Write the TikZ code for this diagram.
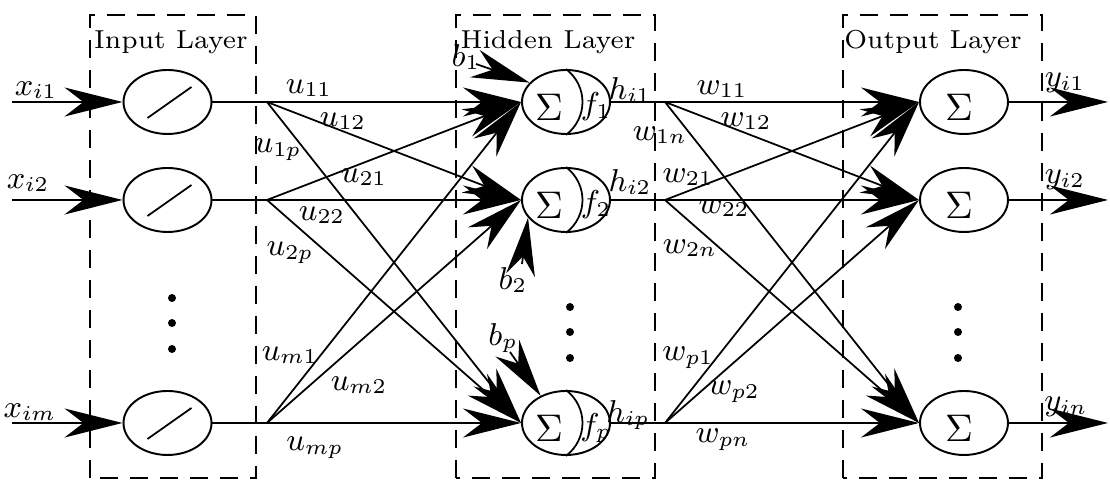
\documentclass[tikz,border=0pt]{standalone}
\usepackage{amsmath,amssymb}
\usepackage{tikz}
\usetikzlibrary{arrows.meta, shapes.geometric}

\begin{document}
\begin{tikzpicture}[
    neuron/.style={draw, ellipse, line width=0.55pt, minimum width=0.88cm, minimum height=0.64cm, inner sep=0pt},
    layerbox/.style={line width=0.6pt, dash pattern=on 0.18cm off 0.12cm},
    wire/.style={line width=0.5pt},
    conn/.style={wire, -{Stealth[length=0.58cm, width=0.29cm]}},
    wlabel/.style={font=\fontsize{9}{10}\selectfont, inner sep=0pt},
    sigma/.style={font=\fontsize{11}{12}\selectfont, inner sep=0pt},
    title/.style={font=\fontsize{7.4}{9}\selectfont},
]
  \useasboundingbox (0,0) rectangle (11.1,4.8);

  % Dashed layer frames
  \draw[layerbox] (0.90,0.02) rectangle (2.56,4.65);
  \draw[layerbox] (4.56,0.02) rectangle (6.55,4.65);
  \draw[layerbox] (8.43,0.02) rectangle (10.42,4.65);
  \node[title] (tin) at (1.71,4.38) {Input Layer};
  \node[title] (thid) at (5.48,4.38) {Hidden Layer};
  \node[title] (tout) at (9.33,4.38) {Output Layer};

  % Neurons
  \foreach \n/\y in {1/3.78, 2/2.80, 3/0.57} {
      \node[neuron] (in\n) at (1.675,\y) {};
      \node[neuron] (hid\n) at (5.66,\y) {};
      \node[neuron] (out\n) at (9.64,\y) {};
      \coordinate (xs\n) at (0.12,\y);
      \coordinate (sp\n) at (2.67,\y);
      \coordinate (sq\n) at (6.65,\y);
      \coordinate (ye\n) at (11.08,\y);
      \draw[wire] ([shift={(-0.20,-0.16)}]in\n.center) -- ([shift={(0.24,0.15)}]in\n.center);
      \draw[wire] (hid\n.north) .. controls +(0.22,-0.17) and +(0.22,0.17) .. (hid\n.south);
      \node[sigma] (sig\n) at ([shift={(-0.17,-0.05)}]hid\n.center) {$\Sigma$};
      \node[sigma] (osig\n) at ([shift={(-0.05,-0.05)}]out\n.center) {$\Sigma$};
  }
  \foreach \n/\s in {1/1, 2/2, 3/p} {
      \node[wlabel] (f\n) at ([shift={(0.30,-0.05)}]hid\n.center) {$f_\s$};
  }

  % Inputs and outputs
  \foreach \n in {1,2,3} {
      \draw[conn] (xs\n) -- (in\n.west);
      \draw[wire] (in\n.east) -- (sp\n);
      \draw[wire] (hid\n.east) -- (sq\n);
      \draw[conn] (out\n.east) -- (ye\n);
  }

  % Weighted connections
  \foreach \i in {1,2,3} {
      \foreach \j in {1,2,3} {
          \draw[conn] (sp\i) -- (hid\j.west);
          \draw[conn] (sq\i) -- (out\j.west);
      }
  }

  % Biases
  \node[wlabel] (b1) at (4.66,4.23) {$b_1$};
  \node[wlabel] (b2) at (5.13,2.00) {$b_2$};
  \node[wlabel] (bp) at (5.03,1.42) {$b_p$};
  \coordinate (b1s) at (4.76,4.16);
  \coordinate (b2s) at (5.22,2.16);
  \coordinate (bps) at (5.10,1.28);
  \draw[conn] (b1s) -- (hid1.152);
  \draw[conn] (b2s) -- (hid2.205);
  \draw[conn] (bps) -- (hid3.133);

  % Dots
  \foreach \y in {1.82,1.57,1.31} \fill (1.72,\y) circle (0.04);
  \foreach \y in {1.73,1.48,1.22} {
      \fill (5.70,\y) circle (0.04);
      \fill (9.58,\y) circle (0.04);
  }

  % Labels
  \foreach \x/\y/\txt [count=\c] in {0.36/3.90/x_{i1}, 0.28/2.97/x_{i2}, 0.30/0.68/x_{im},
      10.65/3.97/y_{i1}, 10.65/3.00/y_{i2}, 10.66/0.73/y_{in},
      6.30/3.90/h_{i1}, 6.30/2.98/h_{i2}, 6.28/0.65/h_{ip}} {
      \node[wlabel] (io\c) at (\x,\y) {$\txt$};
  }
  \foreach \x/\y/\txt [count=\c] in {3.09/3.92/u_{11}, 3.43/3.59/u_{12}, 2.78/3.30/u_{1p},
      3.64/3.03/u_{21}, 3.22/2.65/u_{22}, 2.90/2.27/u_{2p},
      2.90/1.25/u_{m1}, 3.59/0.95/u_{m2}, 3.15/0.32/u_{mp}} {
      \node[wlabel] (ul\c) at (\x,\y) {$\txt$};
  }
  \foreach \x/\y/\txt [count=\c] in {7.22/3.91/w_{11}, 7.46/3.59/w_{12}, 6.60/3.45/w_{1n},
      6.88/3.03/w_{21}, 7.24/2.72/w_{22}, 6.90/2.32/w_{2n},
      6.88/1.22/w_{p1}, 7.34/0.88/w_{p2}, 7.23/0.40/w_{pn}} {
      \node[wlabel] (wl\c) at (\x,\y) {$\txt$};
  }
\end{tikzpicture}
\end{document}
